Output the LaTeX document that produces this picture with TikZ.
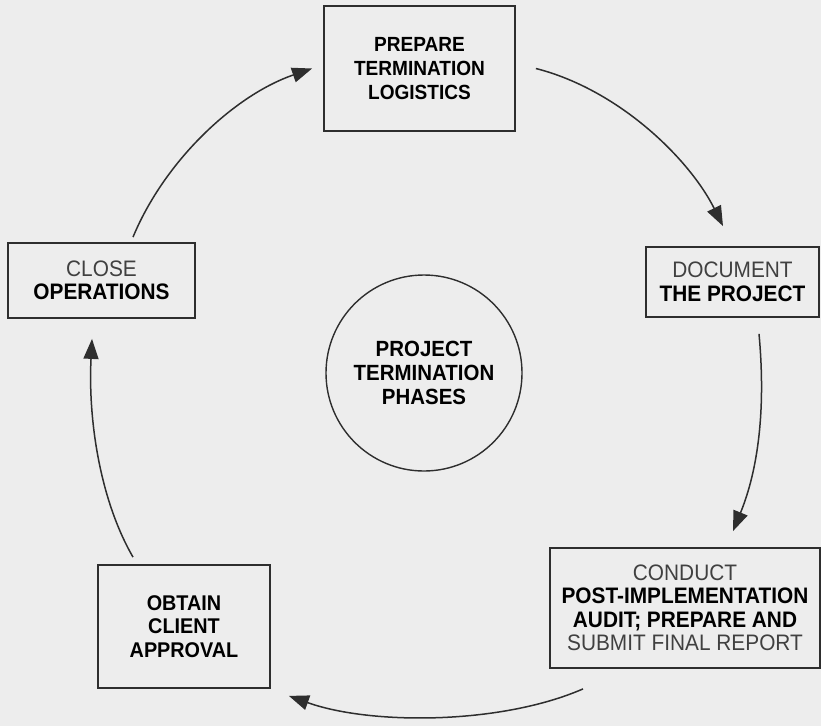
\documentclass[tikz,border=0pt]{standalone}
\usepackage{fontspec}
\setmainfont{Liberation Sans}[FakeStretch=0.93]
\usetikzlibrary{arrows.meta}

\definecolor{paper}{gray}{0.93}
\definecolor{ink}{gray}{0.18}
\definecolor{soft}{gray}{0.25}

\tikzset{
  phasebox/.style={draw=ink, line width=1.8pt, rectangle, inner sep=0pt,
    align=center, text=black, font=\bfseries\fontsize{22.4}{23.5}\selectfont},
  hubcircle/.style={draw=ink, line width=1.4pt, circle, inner sep=0pt,
    minimum size=196pt, align=center, font=\bfseries\fontsize{22}{24}\selectfont},
  flow/.style={draw=ink, line width=1.5pt,
    -{Triangle[length=20pt,width=15pt]}}
}

\newcommand{\lightline}[1]{{\mdseries\color{soft}#1}}

\begin{document}
\begin{tikzpicture}[x=1pt,y=-1pt]
  \fill[paper] (0,0) rectangle (821,726);
  \useasboundingbox (0,0) rectangle (821,726);

  % the five phase boxes
  \node[phasebox, minimum width=191pt, minimum height=125pt,
        font=\bfseries\fontsize{20.5}{24}\selectfont]
    (prep) at (419.5,68.5) {PREPARE\\TERMINATION\\LOGISTICS};
  \node[phasebox, minimum width=173pt, minimum height=70pt]
    (doc) at (732.5,282) {\lightline{DOCUMENT}\\THE PROJECT};
  \node[phasebox, minimum width=270pt, minimum height=120pt]
    (audit) at (685,608) {\lightline{CONDUCT}\\POST-IMPLEMENTATION\\AUDIT; PREPARE AND\\\lightline{SUBMIT FINAL REPORT}};
  \node[phasebox, minimum width=172pt, minimum height=123pt,
        font=\bfseries\fontsize{21.3}{23.5}\selectfont]
    (approve) at (184,626.5) {OBTAIN\\CLIENT\\APPROVAL};
  \node[phasebox, minimum width=187pt, minimum height=75pt]
    (close) at (101.5,280.5) {\lightline{CLOSE}\\OPERATIONS};

  % centre hub
  \node[hubcircle] (hub) at (424,373) {PROJECT\\TERMINATION\\PHASES};

  % end points of the cycle arrows, set off from the boxes
  \coordinate (a1s) at ([shift={(31.5,-5)}]close.north);
  \coordinate (a1e) at ([shift={(-11,0)}]prep.west);
  \coordinate (a2s) at ([shift={(20,0)}]prep.east);
  \coordinate (a2e) at ([shift={(-9.5,-20)}]doc.north);
  \coordinate (a3s) at ([shift={(26.5,16)}]doc.south);
  \coordinate (a3e) at ([shift={(48,-16)}]audit.north);
  \coordinate (a4s) at ([shift={(-102,20)}]audit.south);
  \coordinate (a4e) at ([shift={(18,7)}]approve.south east);
  \coordinate (a5s) at ([shift={(-51,-7)}]approve.north);
  \coordinate (a5e) at ([shift={(-9.5,20)}]close.south);

  % clockwise cycle
  \draw[flow] (a1s) .. controls (165,160) and (235,95) .. (a1e);
  \draw[flow] (a2s) .. controls (620,90) and (690,160) .. (a2e);
  \draw[flow] (a3s) .. controls (766,410) and (758,470) .. (a3e);
  \draw[flow] (a4s) .. controls (500,725) and (370,725) .. (a4e);
  \draw[flow] (a5s) .. controls (100,500) and (88,420) .. (a5e);
\end{tikzpicture}
\end{document}
